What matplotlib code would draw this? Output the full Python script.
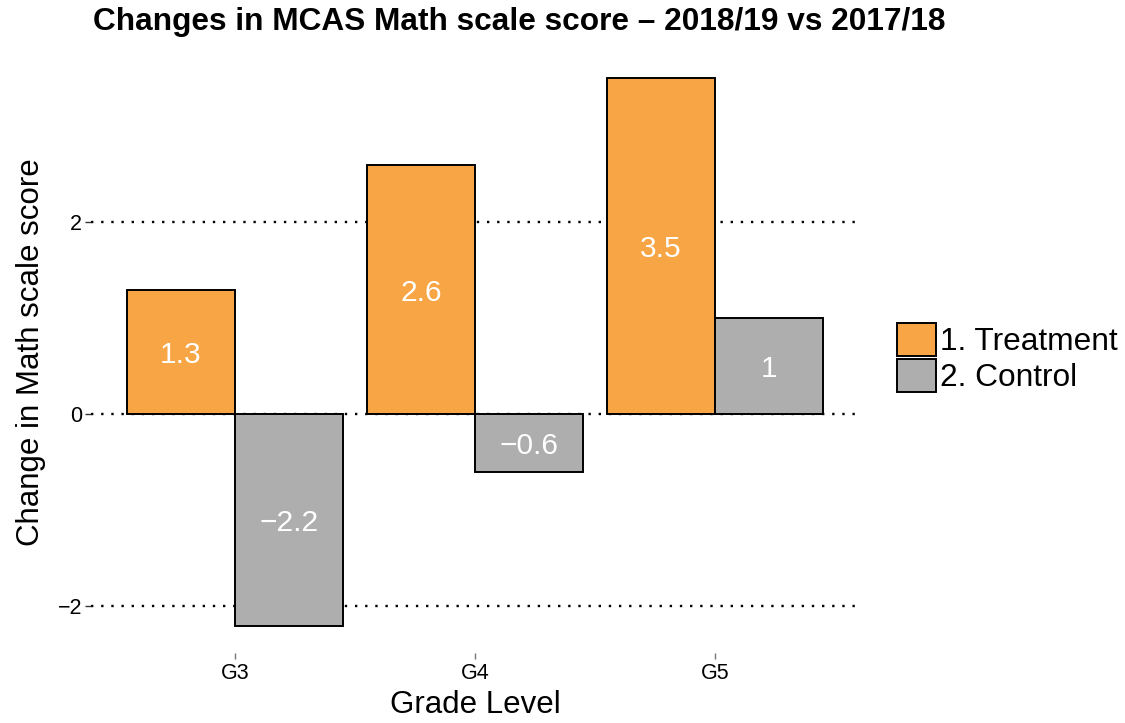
import matplotlib
matplotlib.use("Agg")
import matplotlib.pyplot as plt
import numpy as np
from matplotlib.patches import Patch

# ── data ─────────────────────────────────────────────────────────────────────
grades = ["G3", "G4", "G5"]
treatment = [1.3, 2.6, 3.5]
control = [-2.2, -0.6, 1.0]
series_names = ["1. Treatment", "2. Control"]
y_ticks = [-2, 0, 2]

# ── style ────────────────────────────────────────────────────────────────────
ORANGE = "#F7A545"
GREY = "#AEAEAE"
FONT = "Liberation Sans"
plt.rcParams["font.family"] = [FONT, "DejaVu Sans"]

fig = plt.figure(figsize=(11.25, 7.23), dpi=100)
ax = fig.add_axes([91 / 1125, 1 - 653 / 723, 768 / 1125, 602 / 723])

x = np.arange(1, len(grades) + 1)
w = 0.45
for vals, off, col in [(treatment, -w / 2, ORANGE), (control, w / 2, GREY)]:
    ax.bar(x + off, vals, width=w, color=col, edgecolor="black",
           linewidth=1.4, zorder=3)
    for xi, v in zip(x + off, vals):
        txt = f"{v:g}".replace("-", "\u2212")
        ax.text(xi, v / 2, txt, ha="center", va="center_baseline", color="white",
                fontsize=21.5, zorder=4)

# ggplot-like expansion
lo = min(min(treatment), min(control))
hi = max(max(treatment), max(control))
pad = 0.05 * (hi - lo)
ax.set_ylim(lo - pad, hi + pad)
ax.set_xlim(0.4, len(grades) + 0.6)

ax.set_yticks(y_ticks)
ax.set_yticklabels([f"{t}".replace("-", "\u2212") for t in y_ticks])
ax.set_xticks(x)
ax.set_xticklabels(grades)
ax.tick_params(axis="y", length=4.5, width=1, color="#333333", labelsize=15.5, pad=2)
ax.tick_params(axis="x", length=4.5, width=1, color="#777777", labelsize=15.5, pad=3)

ax.grid(axis="y", color="black", linestyle=(0, (1, 3.3)), linewidth=1.7, zorder=0)
ax.grid(axis="x", visible=False)
for s in ax.spines.values():
    s.set_visible(False)

ax.set_xlabel("Grade Level", fontsize=22.5, labelpad=4)
ax.set_ylabel("Change in Math scale score", fontsize=22.5, labelpad=8)

fig.text(93 / 1125, 1 - 22 / 723, "Changes in MCAS Math scale score \u2013 2018/19 vs 2017/18",
         fontsize=22.8, fontweight="bold", ha="left", va="center")

handles = [Patch(facecolor=ORANGE, edgecolor="black", linewidth=1.4),
           Patch(facecolor=GREY, edgecolor="black", linewidth=1.4)]
fig.legend(handles, series_names, loc="center left",
           bbox_to_anchor=(897 / 1125, 1 - 358 / 723), frameon=False,
           fontsize=22.8, handlelength=1.22, handleheight=1.22,
           handletextpad=0.15, labelspacing=0.05, borderpad=0, borderaxespad=0)

fig.savefig("out.png", dpi=100)
